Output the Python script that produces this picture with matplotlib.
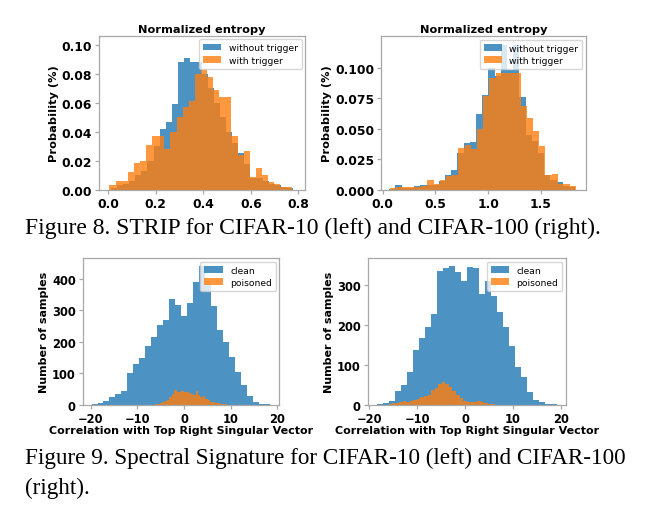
import numpy as np
import matplotlib
matplotlib.use("Agg")
import matplotlib.pyplot as plt

# ---------------- data ----------------
# Figure 8 (STRIP) - normalized entropy histograms, 30 bins each
strip10_without_range = (0.012, 0.777)
strip10_without = [0.001, 0.003, 0.004, 0.006, 0.010, 0.013, 0.020, 0.030, 0.042, 0.047,
                   0.059, 0.088, 0.091, 0.088, 0.088, 0.080, 0.070, 0.060, 0.050, 0.040,
                   0.032, 0.025, 0.018, 0.008, 0.008, 0.006, 0.004, 0.003, 0.002, 0.001]
strip10_with_range = (0.005, 0.775)
strip10_with = [0.003, 0.006, 0.006, 0.012, 0.0185, 0.020, 0.031, 0.037, 0.037, 0.028,
                0.040, 0.050, 0.057, 0.061, 0.080, 0.083, 0.078, 0.069, 0.064, 0.064,
                0.037, 0.024, 0.027, 0.009, 0.015, 0.010, 0.005, 0.004, 0.002, 0.002]

strip100_without_range = (0.062, 1.828)
strip100_without = [0.0005, 0.0035, 0.001, 0.001, 0.003, 0.0035, 0.004, 0.004, 0.007, 0.012,
                    0.016, 0.030, 0.038, 0.039, 0.062, 0.078, 0.100, 0.093, 0.119, 0.098,
                    0.119, 0.076, 0.045, 0.040, 0.030, 0.012, 0.008, 0.006, 0.003, 0.002]
strip100_with_range = (0.072, 1.838)
strip100_with = [0.001, 0.002, 0.002, 0.002, 0.002, 0.003, 0.0077, 0.0045, 0.008, 0.011,
                 0.012, 0.034, 0.037, 0.033, 0.050, 0.077, 0.092, 0.096, 0.096, 0.096,
                 0.096, 0.069, 0.059, 0.048, 0.036, 0.012, 0.013, 0.005, 0.005, 0.003]

# Figure 9 (Spectral Signature) - correlation histograms, 30 bins each
spec10_clean_range = (-19.8, 18.5)
spec10_clean = [2, 6, 14, 24, 35, 43, 101, 130, 148, 188,
                217, 254, 270, 336, 317, 284, 323, 389, 442, 395,
                315, 238, 199, 153, 104, 63, 30, 8, 3, 2]
spec10_poison_range = (-6.2, 9.14)
spec10_poison = [3, 4, 7, 9, 12, 17, 24, 34, 47, 42,
                 42, 43, 42, 40, 37, 34, 32, 43, 33, 26,
                 28, 20, 16, 10, 8, 6, 5, 4, 3, 2]

spec100_clean_range = (-18.47, 19.17)
spec100_clean = [3, 4, 11, 36, 50, 82, 138, 167, 196, 228,
                 336, 342, 348, 332, 311, 344, 342, 278, 311, 273,
                 232, 194, 148, 94, 69, 33, 13, 7, 3, 2]
spec100_poison_range = (-16.0, 6.27)
spec100_poison = [3, 4, 5, 8, 9, 8, 10, 13, 15, 19,
                  22, 25, 38, 42, 52, 58, 52, 44, 36, 26,
                  17, 11, 8, 7, 8, 11, 8, 4, 3, 2]

strip_labels = ["without trigger", "with trigger"]
spec_labels = ["clean", "poisoned"]
caption8 = "Figure 8. STRIP for CIFAR-10 (left) and CIFAR-100 (right)."
caption9_l1 = "Figure 9. Spectral Signature for CIFAR-10 (left) and CIFAR-100"
caption9_l2 = "(right)."

# ---------------- drawing ----------------
W, H = 647, 510
fig = plt.figure(figsize=(W / 100, H / 100), dpi=100)

def px_axes(l, t, r, b):
    return fig.add_axes([l / W, 1 - b / H, (r - l) / W, (b - t) / H])

def draw_hist(ax, rng, vals, color, label):
    edges = np.linspace(rng[0], rng[1], len(vals) + 1)
    centers = (edges[:-1] + edges[1:]) / 2
    ax.hist(centers, bins=edges, weights=vals, color=color, alpha=0.8, label=label)

SPINE = "#a8a8a8"

def style(ax, tick_fs):
    for s in ax.spines.values():
        s.set_color(SPINE)
        s.set_linewidth(0.9)
    ax.tick_params(color=SPINE, labelcolor="black", labelsize=tick_fs,
                   length=3, width=0.9, pad=2)
    for lab in ax.get_xticklabels() + ax.get_yticklabels():
        lab.set_fontweight("bold")

panels = [
    dict(box=(99, 37, 305, 190.7), series=[(strip10_without_range, strip10_without),
                                          (strip10_with_range, strip10_with)],
         labels=strip_labels, xlim=(-0.039, 0.828), ylim=(0, 0.106),
         xticks=[0.0, 0.2, 0.4, 0.6, 0.8], yticks=[0.0, 0.02, 0.04, 0.06, 0.08, 0.10],
         xfmt="{:.1f}", yfmt="{:.2f}", title="Normalized entropy",
         ylabel="Probability (%)", xlabel=None, tick_fs=8.9, lab_fs=8.2),
    dict(box=(381, 37.3, 585.7, 190.7), series=[(strip100_without_range, strip100_without),
                                               (strip100_with_range, strip100_with)],
         labels=strip_labels, xlim=(-0.016, 1.927), ylim=(0, 0.1258),
         xticks=[0.0, 0.5, 1.0, 1.5], yticks=[0.0, 0.025, 0.05, 0.075, 0.10],
         xfmt="{:.1f}", yfmt="{:.3f}", title="Normalized entropy",
         ylabel="Probability (%)", xlabel=None, tick_fs=8.9, lab_fs=8.2),
    dict(box=(82.7, 259.3, 279.3, 406), series=[(spec10_clean_range, spec10_clean),
                                               (spec10_poison_range, spec10_poison)],
         labels=spec_labels, xlim=(-21.7, 20.4), ylim=(0, 465.6),
         xticks=[-20, -10, 0, 10, 20], yticks=[0, 100, 200, 300, 400],
         xfmt=None, yfmt=None, title=None,
         ylabel="Number of samples", xlabel="Correlation with Top Right Singular Vector",
         tick_fs=8.3, lab_fs=8.0),
    dict(box=(367.7, 259.3, 565.7, 406), series=[(spec100_clean_range, spec100_clean),
                                                (spec100_poison_range, spec100_poison)],
         labels=spec_labels, xlim=(-20.35, 21.05), ylim=(0, 366.7),
         xticks=[-20, -10, 0, 10, 20], yticks=[0, 100, 200, 300],
         xfmt=None, yfmt=None, title=None,
         ylabel="Number of samples", xlabel="Correlation with Top Right Singular Vector",
         tick_fs=8.3, lab_fs=8.0),
]

colors = ["#1f77b4", "#ff7f0e"]
for p in panels:
    ax = px_axes(*p["box"])
    for (rng, vals), c, lab in zip(p["series"], colors, p["labels"]):
        draw_hist(ax, rng, vals, c, lab)
    ax.set_xlim(*p["xlim"])
    ax.set_ylim(*p["ylim"])
    ax.set_xticks(p["xticks"])
    ax.set_yticks(p["yticks"])
    if p["xfmt"]:
        ax.set_xticklabels([p["xfmt"].format(v) for v in p["xticks"]])
    if p["yfmt"]:
        ax.set_yticklabels([p["yfmt"].format(v) for v in p["yticks"]])
    style(ax, p["tick_fs"])
    if p["title"]:
        ax.set_title(p["title"], fontsize=p["lab_fs"], fontweight="bold", pad=3)
    ax.set_ylabel(p["ylabel"], fontsize=p["lab_fs"], fontweight="bold", labelpad=2)
    if p["xlabel"]:
        ax.set_xlabel(p["xlabel"], fontsize=p["lab_fs"], fontweight="bold", labelpad=0)
    ax.legend(loc="upper right", fontsize=6.6, borderaxespad=0.35,
              handlelength=2.0, borderpad=0.45, labelspacing=0.35)

serif = ["Liberation Serif", "DejaVu Serif"]
fig.text(25 / W, 1 - 228 / H, caption8, family=serif, fontsize=17, va="center", ha="left")
fig.text(25 / W, 1 - 458 / H, caption9_l1, family=serif, fontsize=16.7, va="center", ha="left")
fig.text(25 / W, 1 - 488 / H, caption9_l2, family=serif, fontsize=16.7, va="center", ha="left")

fig.savefig("out.png", dpi=100)
